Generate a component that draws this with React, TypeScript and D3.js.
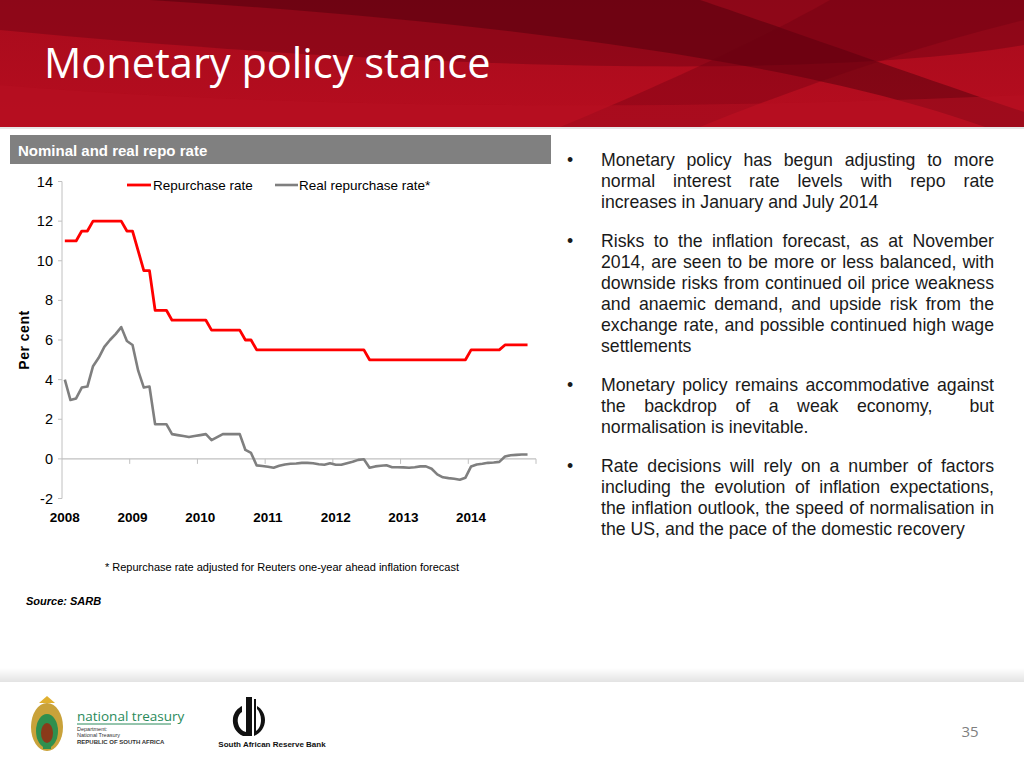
import React from "react";
import * as d3 from "d3";

// ---- Data (monthly, Jan 2008 – Nov 2014) ----
const yearLabels = ["2008", "2009", "2010", "2011", "2012", "2013", "2014"];
const yTicks = [-2, 0, 2, 4, 6, 8, 10, 12, 14];

const repoRate = [
  // 2008
  11, 11, 11, 11.5, 11.5, 12, 12, 12, 12, 12, 12, 11.5,
  // 2009
  11.5, 10.5, 9.5, 9.5, 7.5, 7.5, 7.5, 7, 7, 7, 7, 7,
  // 2010
  7, 7, 6.5, 6.5, 6.5, 6.5, 6.5, 6.5, 6, 6, 5.5, 5.5,
  // 2011
  5.5, 5.5, 5.5, 5.5, 5.5, 5.5, 5.5, 5.5, 5.5, 5.5, 5.5, 5.5,
  // 2012
  5.5, 5.5, 5.5, 5.5, 5.5, 5.5, 5, 5, 5, 5, 5, 5,
  // 2013
  5, 5, 5, 5, 5, 5, 5, 5, 5, 5, 5, 5,
  // 2014
  5.5, 5.5, 5.5, 5.5, 5.5, 5.5, 5.75, 5.75, 5.75, 5.75, 5.75,
];

const realRepoRate = [
  // 2008
  4.0, 2.97, 3.05, 3.6, 3.65, 4.68, 5.1, 5.65, 6.0, 6.3, 6.65, 5.95,
  // 2009
  5.75, 4.45, 3.6, 3.65, 1.75, 1.75, 1.75, 1.25, 1.2, 1.15, 1.1, 1.15,
  // 2010
  1.2, 1.25, 0.95, 1.1, 1.25, 1.25, 1.25, 1.25, 0.45, 0.3, -0.33, -0.36,
  // 2011
  -0.4, -0.45, -0.35, -0.28, -0.25, -0.23, -0.2, -0.2, -0.22, -0.27, -0.3, -0.22,
  // 2012
  -0.3, -0.3, -0.22, -0.15, -0.05, -0.02, -0.45, -0.38, -0.35, -0.32, -0.42, -0.42,
  // 2013
  -0.43, -0.45, -0.42, -0.38, -0.38, -0.5, -0.78, -0.93, -0.97, -1.0, -1.05, -0.95,
  // 2014
  -0.38, -0.28, -0.25, -0.2, -0.18, -0.15, 0.12, 0.18, 0.2, 0.22, 0.22,
];

const seriesNames = ["Repurchase rate", "Real repurchase rate*"];

const bulletParagraphs: string[][] = [
  [
    "Monetary policy has begun adjusting to more",
    "normal interest rate levels with repo rate",
    "increases in January and July 2014",
  ],
  [
    "Risks to the inflation forecast, as at November",
    "2014, are seen to be more or less balanced, with",
    "downside risks from continued oil price weakness",
    "and anaemic demand, and upside risk from the",
    "exchange rate, and possible continued high wage",
    "settlements",
  ],
  [
    "Monetary policy remains accommodative against",
    "the backdrop of a weak economy,  but",
    "normalisation is inevitable.",
  ],
  [
    "Rate decisions will rely on a number of factors",
    "including the evolution of inflation expectations,",
    "the inflation outlook, the speed of normalisation in",
    "the US, and the pace of the domestic recovery",
  ],
];

const SANS = '"Liberation Sans", Arial, sans-serif';
const BODY_FONT_SIZE = 17.7;

let _canvas: HTMLCanvasElement | null = null;
function measure(text: string, font: string): number {
  if (!_canvas) _canvas = document.createElement("canvas");
  const ctx = _canvas.getContext("2d")!;
  ctx.font = font;
  return ctx.measureText(text).width;
}

function JustifiedLine({ text, x0, x1, y, justify }: { text: string; x0: number; x1: number; y: number; justify: boolean }) {
  if (!justify) {
    return (
      <text x={x0} y={y} fontFamily={SANS} fontSize={BODY_FONT_SIZE} fill="#1a1a1a">
        {text}
      </text>
    );
  }
  const font = `${BODY_FONT_SIZE}px "Liberation Sans"`;
  const words = text.split(" ");
  const widths = words.map((w) => measure(w, font));
  const total = widths.reduce((a, b) => a + b, 0);
  const gap = (x1 - x0 - total) / (words.length - 1);
  let cx = x0;
  const items = words.map((w, i) => {
    const el = (
      <text key={i} x={cx} y={y} fontFamily={SANS} fontSize={BODY_FONT_SIZE} fill="#1a1a1a">
        {w}
      </text>
    );
    cx += widths[i] + gap;
    return el;
  });
  return <g>{items}</g>;
}

export default function App() {
  const plotLeft = 62;
  const plotRight = 536;
  const nMonths = yearLabels.length * 12;

  const x = d3.scaleLinear().domain([0, nMonths]).range([plotLeft, plotRight]);
  const y = d3.scaleLinear().domain([-2, 14]).range([498.5, 181.5]);

  const line = d3
    .line<number>()
    .x((_, i) => x(i + 0.5))
    .y((d) => y(d));

  const axisColor = "#c0c0c0";

  // bullet layout
  const textLeft = 601;
  const textRight = 994;
  const lineH = 21.1;
  const paraGap = 17.5;
  let by = 166;
  const bulletEls: React.ReactNode[] = [];
  bulletParagraphs.forEach((para, pi) => {
    bulletEls.push(
      <text key={`b${pi}`} x={567} y={by} fontFamily={SANS} fontSize={BODY_FONT_SIZE} fill="#1a1a1a">
        •
      </text>
    );
    para.forEach((ln, li) => {
      bulletEls.push(
        <JustifiedLine
          key={`l${pi}-${li}`}
          text={ln}
          x0={textLeft}
          x1={textRight}
          y={by}
          justify={li < para.length - 1}
        />
      );
      by += lineH;
    });
    by += paraGap;
  });

  return (
    <svg
      width={1024}
      height={768}
      style={{ position: "absolute", left: 0, top: 0, background: "#ffffff" }}
      xmlns="http://www.w3.org/2000/svg"
    >
      <defs>
        <linearGradient id="footShadow" x1="0" y1="0" x2="0" y2="1">
          <stop offset="0" stopColor="#ffffff" />
          <stop offset="1" stopColor="#e3e3e3" />
        </linearGradient>
        <linearGradient id="hdrBase" x1="0" y1="0" x2="0" y2="1">
          <stop offset="0" stopColor="#a80b1c" />
          <stop offset="1" stopColor="#b60d1f" />
        </linearGradient>
      </defs>

      {/* Header */}
      <rect x={0} y={0} width={1024} height={127} fill="url(#hdrBase)" />
      <path d="M0,0 L1024,0 L1024,45 C820,80 420,70 0,30 Z" fill="#5c0010" opacity={0.35} />
      <path d="M150,0 L700,0 C760,20 900,70 1024,112 L1024,127 L985,127 C800,60 480,20 150,0 Z" fill="#4a000a" opacity={0.45} />
      <path d="M830,0 L1024,0 L1024,20 C900,50 780,95 700,127 L560,127 C650,90 760,40 830,0 Z" fill="#6a0010" opacity={0.35} />
      <path d="M0,85 C300,110 700,110 1024,95 L1024,127 L0,127 Z" fill="#b80f22" opacity={0.5} />
      <rect x={0} y={127} width={1024} height={2} fill="#e6e6e6" />
      <text x={44} y={78} fontFamily='"Open Sans", sans-serif' fontSize={41.5} fill="#ffffff">
        Monetary policy stance
      </text>

      {/* Chart title box */}
      <rect x={10} y={135} width={541} height={29} fill="#808080" />
      <text x={18} y={156} fontFamily={SANS} fontSize={15} fontWeight="bold" fill="#ffffff">
        Nominal and real repo rate
      </text>

      {/* Y axis */}
      <line x1={plotLeft} x2={plotLeft} y1={y(14)} y2={y(-2)} stroke={axisColor} strokeWidth={1} />
      {yTicks.map((t) => (
        <g key={`yt${t}`}>
          <line x1={plotLeft - 4} x2={plotLeft} y1={y(t)} y2={y(t)} stroke={axisColor} />
          <text x={53} y={y(t) + 5} textAnchor="end" fontFamily={SANS} fontSize={14.5} fill="#000">
            {t}
          </text>
        </g>
      ))}
      <text
        transform={`translate(29,${(y(14) + y(-2)) / 2}) rotate(-90)`}
        textAnchor="middle"
        fontFamily={SANS}
        fontSize={14}
        fontWeight="bold"
        letterSpacing={0.5}
        fill="#000"
      >
        Per cent
      </text>

      {/* X axis at zero */}
      <line x1={plotLeft} x2={plotRight} y1={y(0)} y2={y(0)} stroke={axisColor} strokeWidth={1.2} />
      {yearLabels.map((lab, k) => (
        <g key={`xt${lab}`}>
          <line x1={x((k + 1) * 12)} x2={x((k + 1) * 12)} y1={y(0)} y2={y(0) + 5} stroke={axisColor} />
          <text x={x(k * 12 + 0.5)} y={522} textAnchor="middle" fontFamily={SANS} fontSize={13.5} fontWeight="bold" fill="#000">
            {lab}
          </text>
        </g>
      ))}

      {/* Series */}
      <path d={line(realRepoRate) || ""} fill="none" stroke="#7f7f7f" strokeWidth={2.6} strokeLinejoin="round" />
      <path d={line(repoRate) || ""} fill="none" stroke="#ff0000" strokeWidth={2.8} strokeLinejoin="round" />

      {/* Legend */}
      <line x1={127} x2={151} y1={185} y2={185} stroke="#ff0000" strokeWidth={2.8} />
      <text x={153} y={190} fontFamily={SANS} fontSize={13.5} fill="#000">
        {seriesNames[0]}
      </text>
      <line x1={275} x2={298} y1={185} y2={185} stroke="#7f7f7f" strokeWidth={2.6} />
      <text x={299} y={190} fontFamily={SANS} fontSize={13.5} fill="#000">
        {seriesNames[1]}
      </text>

      {/* Footnote and source */}
      <text x={282} y={571} textAnchor="middle" fontFamily={SANS} fontSize={11} fill="#000">
        * Repurchase rate adjusted for Reuters one-year ahead inflation forecast
      </text>
      <text x={26} y={605} fontFamily={SANS} fontSize={11} fontWeight="bold" fontStyle="italic" fill="#000">
        Source: SARB
      </text>

      {/* Bullets */}
      {bulletEls}

      {/* Footer */}
      <rect x={0} y={668} width={1024} height={14} fill="url(#footShadow)" />

      {/* Coat of arms (simplified) */}
      <g>
        <ellipse cx={47} cy={727} rx={16} ry={24} fill="#c9a23a" />
        <ellipse cx={47} cy={731} rx={11} ry={17} fill="#2f8f4e" />
        <ellipse cx={47} cy={733} rx={6} ry={10} fill="#8a3a1a" />
        <path d="M39,703 L47,696 L55,703 Z" fill="#e0b030" />
        <rect x={43} y={744} width={8} height={5} fill="#2f8f4e" />
      </g>
      <text x={77} y={721} fontFamily='"Open Sans", sans-serif' fontSize={13.5} fill="#2a8a5a">
        national treasury
      </text>
      <line x1={77} x2={171} y1={724} y2={724} stroke="#2a8a5a" strokeWidth={1} />
      <text x={77} y={731} fontFamily={SANS} fontSize={5.5} fill="#333">
        Department:
      </text>
      <text x={77} y={737} fontFamily={SANS} fontSize={5.5} fill="#333">
        National Treasury
      </text>
      <text x={77} y={744} fontFamily={SANS} fontSize={6} fontWeight="bold" fill="#333">
        REPUBLIC OF SOUTH AFRICA
      </text>

      {/* SARB logo (simplified) */}
      <g fill="#111">
        <path d="M246,697 L252,697 L252,736 L243,736 C236,733 232,726 233,718 C234,712 238,708 242,706 L242,712 C239,714 237,718 238,723 C239,728 242,731 246,732 Z" />
        <path d="M254,699 L256,699 L256,731 C259,729 261,725 261,720 C261,715 259,711 257,709 L257,706 C262,709 265,714 265,720 C265,727 261,733 254,736 Z" />
      </g>
      <text x={272} y={747} textAnchor="middle" fontFamily={SANS} fontSize={8} fontWeight="bold" fill="#111">
        South African Reserve Bank
      </text>

      <text x={970} y={737} textAnchor="middle" fontFamily='"Open Sans", sans-serif' fontSize={15} fill="#7f7f7f">
        35
      </text>
    </svg>
  );
}
